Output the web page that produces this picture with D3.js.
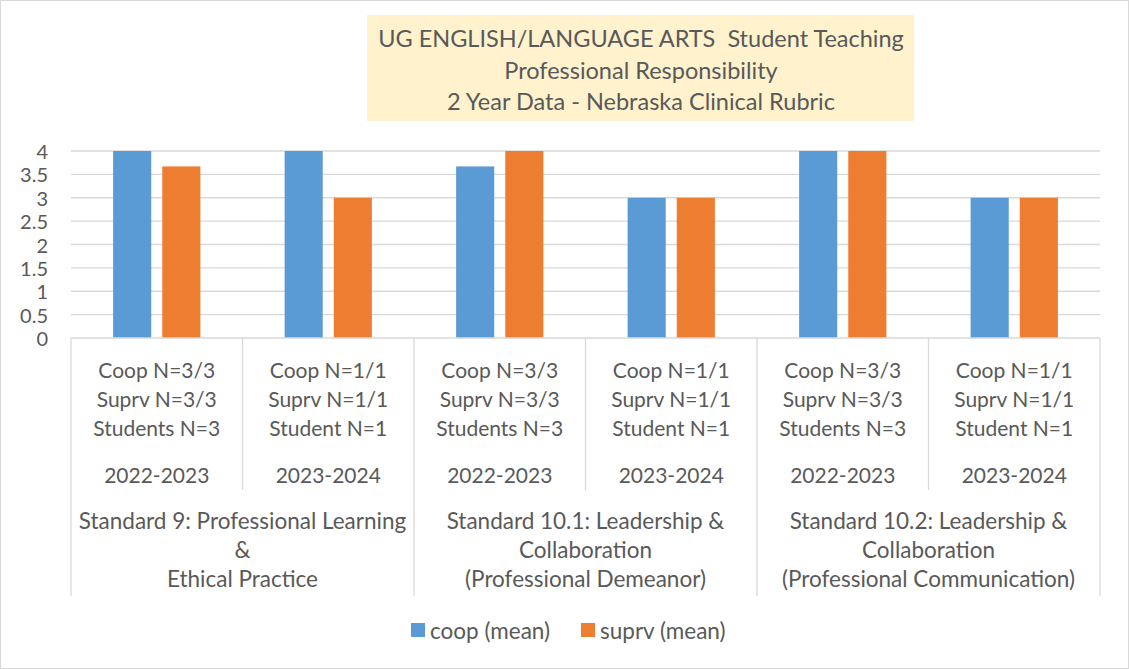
<!DOCTYPE html>
<html><head><meta charset="utf-8">
<script src="https://cdn.jsdelivr.net/npm/d3@7"></script>
<style>body{margin:0;background:#fff}svg{display:block}text{font-family:Lato,"Open Sans",sans-serif;fill:#595959;white-space:pre}</style>
</head><body><svg id="c" width="1129" height="669"></svg>
<script>
const titleLines = ["UG ENGLISH/LANGUAGE ARTS  Student Teaching", "Professional Responsibility", "2 Year Data - Nebraska Clinical Rubric"];
const subLabels = [
  ["Coop N=3/3","Suprv N=3/3","Students N=3"],
  ["Coop N=1/1","Suprv N=1/1","Student N=1"],
  ["Coop N=3/3","Suprv N=3/3","Students N=3"],
  ["Coop N=1/1","Suprv N=1/1","Student N=1"],
  ["Coop N=3/3","Suprv N=3/3","Students N=3"],
  ["Coop N=1/1","Suprv N=1/1","Student N=1"]
];
const years = ["2022-2023","2023-2024","2022-2023","2023-2024","2022-2023","2023-2024"];
const standards = [
  ["Standard 9: Professional Learning","&","Ethical Practice"],
  ["Standard 10.1: Leadership &","Collaboration","(Professional Demeanor)"],
  ["Standard 10.2: Leadership &","Collaboration","(Professional Communication)"]
];
const seriesNames = ["coop (mean)","suprv (mean)"];
const coop = [4, 4, 3.67, 3, 4, 3];
const suprv = [3.67, 3, 4, 3, 4, 3];
const yTicks = [0,0.5,1,1.5,2,2.5,3,3.5,4];
const colors = ["#5B9BD5","#ED7D31"];

(function(){
const svg = d3.select("#c");
svg.append("rect").attr("x",0.5).attr("y",0.5).attr("width",1128).attr("height",668).attr("fill","#fff").attr("stroke","#d9d9d9");

svg.append("rect").attr("x",367).attr("y",15).attr("width",547).attr("height",106).attr("fill","#FFF2CC");
svg.selectAll(".tt").data(titleLines).join("text").attr("x",641).attr("y",(d,i)=>38+i*31.5)
  .attr("text-anchor","middle").attr("dominant-baseline","central").style("font-size","23.5px").text(d=>d);

const pLeft=71, pRight=1100, pTop=151, pBottom=338;
const x = d3.scaleBand().domain(d3.range(6)).range([pLeft,pRight]).padding(0);
const xi = d3.scaleBand().domain([0,1]).range([0,x.bandwidth()]).paddingInner(0.2245).paddingOuter(0.857);
const y = d3.scaleLinear().domain([0,4]).range([pBottom,pTop]);

svg.append("g").selectAll("line").data(yTicks.filter(d=>d>0)).join("line")
  .attr("x1",pLeft).attr("x2",pRight).attr("y1",d=>y(d)).attr("y2",d=>y(d)).attr("stroke","#d9d9d9").attr("stroke-width",1.3);

svg.append("g").selectAll("text").data(yTicks).join("text").attr("x",48).attr("y",d=>y(d))
  .attr("text-anchor","end").attr("dominant-baseline","central").style("font-size","20px").text(d=>d);

const data = [coop, suprv];
data.forEach((arr,s)=>{
  svg.append("g").selectAll("rect").data(arr).join("rect")
    .attr("x",(d,i)=>x(i)+xi(s)).attr("width",xi.bandwidth())
    .attr("y",d=>y(d)).attr("height",d=>y(0)-y(d)).attr("fill",colors[s]);
});

const ax = svg.append("g").attr("stroke","#d9d9d9").attr("stroke-width",1.3);
ax.append("line").attr("x1",pLeft).attr("x2",pRight).attr("y1",pBottom).attr("y2",pBottom);
d3.range(7).forEach(i=>{
  const xx = i<6 ? x(i) : pRight;
  const major = i%2===0;
  ax.append("line").attr("x1",xx).attr("x2",xx).attr("y1",pBottom).attr("y2",major?596:490);
});

const lab = svg.append("g");
subLabels.forEach((lines,i)=>{
  const cx = x(i)+x.bandwidth()/2;
  lines.forEach((t,j)=>{
    lab.append("text").attr("x",cx).attr("y",369+j*29).attr("text-anchor","middle").attr("dominant-baseline","central").style("font-size","21px").text(t);
  });
  lab.append("text").attr("x",cx).attr("y",474).attr("text-anchor","middle").attr("dominant-baseline","central").style("font-size","21px").text(years[i]);
});
standards.forEach((lines,k)=>{
  const cx = x(2*k)+x.bandwidth();
  lines.forEach((t,j)=>{
    lab.append("text").attr("x",cx).attr("y",520+j*29).attr("text-anchor","middle").attr("dominant-baseline","central").style("font-size","22.5px").text(t);
  });
});

const lx=[411,581];
seriesNames.forEach((n,s)=>{
  svg.append("rect").attr("x",lx[s]).attr("y",623).attr("width",14).attr("height",14).attr("fill",colors[s]);
  svg.append("text").attr("x",lx[s]+19).attr("y",630).attr("dominant-baseline","central").style("font-size","22.5px").text(n);
});
})();
</script></body></html>
